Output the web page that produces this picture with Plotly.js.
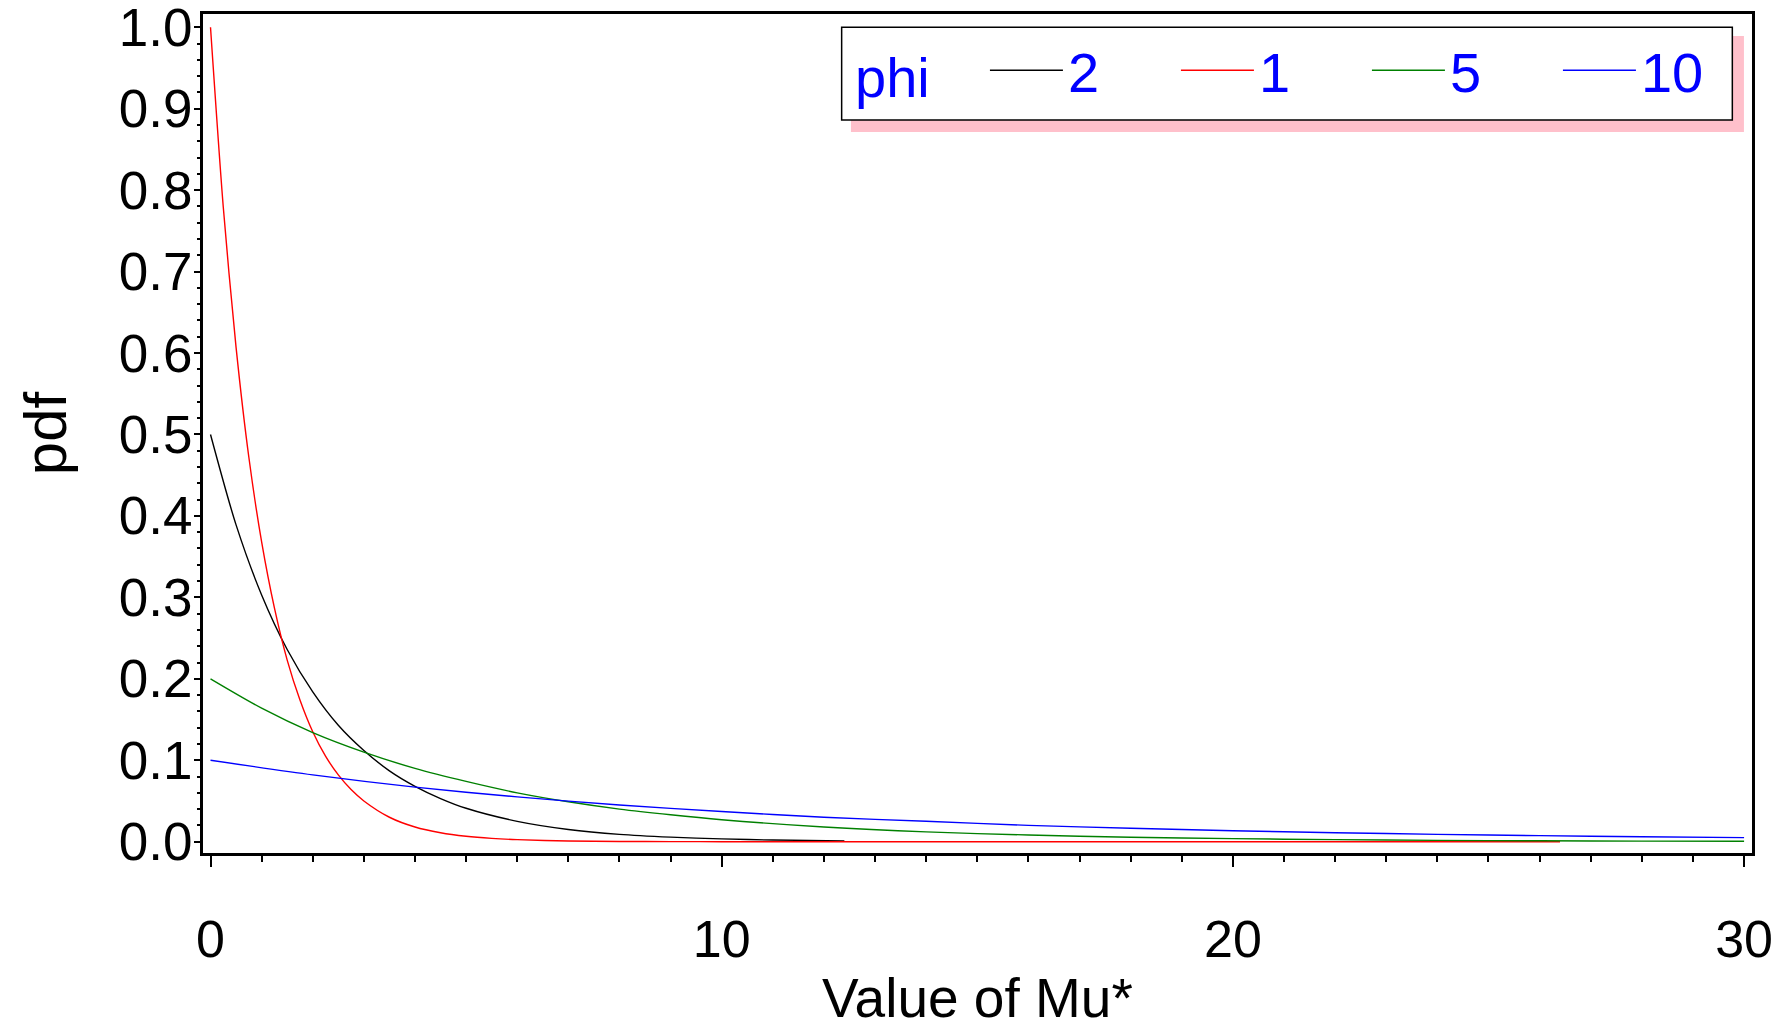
<!DOCTYPE html>
<html><head><meta charset="utf-8">
<script src="https://cdn.plot.ly/plotly-3.0.1.min.js"></script>
<style>html,body{margin:0;padding:0;background:#fff;} #chart{width:1783px;height:1029px;}</style>
</head><body><div id="chart"></div>
<script>
// phi labels (legend order)
const phiLabels = ['2', '1', '5', '10'];
const legendTitle = 'phi';
const xTitle = 'Value of Mu*';
const yTitle = 'pdf';

// phi = 2 (black)
const phi2_x = [0, 0.5, 1, 1.5, 2, 2.5, 3, 3.5, 4, 4.5, 5, 6, 7, 8, 9, 10, 11, 12.4];
const phi2_y = [0.500, 0.389, 0.303, 0.236, 0.184, 0.143, 0.112, 0.087, 0.068, 0.053, 0.041, 0.025, 0.015, 0.009, 0.0056, 0.0034, 0.002, 0.001];

// phi = 1 (red)
const phi1_x = [0, 0.25, 0.5, 0.75, 1, 1.25, 1.5, 1.75, 2, 2.25, 2.5, 2.75, 3, 3.5, 4, 4.5, 5, 5.5, 6, 7, 8, 9, 10, 12, 15, 20, 26.4];
const phi1_y = [1.000, 0.779, 0.607, 0.472, 0.368, 0.287, 0.223, 0.174, 0.135, 0.105, 0.082, 0.064, 0.050, 0.030, 0.018, 0.011, 0.0067, 0.0041, 0.0025, 0.0009, 0.0003, 0.0001, 0, 0, 0, 0, 0];

// phi = 5 (green)
const phi5_x = [0, 1, 2, 3, 4, 5, 6, 7, 8, 9, 10, 12, 14, 16, 18, 20, 22, 24, 26, 28, 30];
const phi5_y = [0.200, 0.164, 0.134, 0.110, 0.090, 0.074, 0.060, 0.049, 0.040, 0.033, 0.027, 0.018, 0.012, 0.0082, 0.0055, 0.0037, 0.0025, 0.0016, 0.0011, 0.0007, 0.0005];

// phi = 10 (blue)
const phi10_x = [0, 2, 4, 6, 8, 10, 12, 14, 16, 18, 20, 22, 24, 26, 28, 30];
const phi10_y = [0.100, 0.082, 0.067, 0.055, 0.045, 0.037, 0.030, 0.025, 0.020, 0.0165, 0.0135, 0.011, 0.009, 0.0074, 0.0061, 0.0050];

// axis ticks
const xTickVals = [0, 10, 20, 30];
const xTickText = ['0', '10', '20', '30'];
const yTickVals = [0, 0.1, 0.2, 0.3, 0.4, 0.5, 0.6, 0.7, 0.8, 0.9, 1.0];
const yTickText = ['0.0', '0.1', '0.2', '0.3', '0.4', '0.5', '0.6', '0.7', '0.8', '0.9', '1.0'];

const series = [
  {x: phi2_x, y: phi2_y, color: '#000000'},
  {x: phi1_x, y: phi1_y, color: '#FF0000'},
  {x: phi5_x, y: phi5_y, color: '#008000'},
  {x: phi10_x, y: phi10_y, color: '#0000FF'}
];

const traces = series.map((s, i) => ({
  type: 'scatter', mode: 'lines',
  x: s.x, y: s.y, name: phiLabels[i],
  line: {color: s.color, width: 1.4, shape: 'spline', smoothing: 0.8},
  hoverinfo: 'x+y+name'
}));

const FONT = 'Liberation Sans, Arial, sans-serif';

const layout = {
  width: 1783, height: 1029,
  margin: {l: 203, r: 31, t: 14, b: 176, pad: 0},
  paper_bgcolor: '#ffffff', plot_bgcolor: '#ffffff',
  font: {family: FONT, color: '#000000', size: 53},
  showlegend: true,
  xaxis: {
    range: [-0.147, 30.155], autorange: false,
    tickmode: 'array', tickvals: xTickVals, ticktext: xTickText,
    ticks: 'outside', ticklen: 11, tickwidth: 2, tickcolor: '#000',
    minor: {dtick: 1, ticks: 'outside', ticklen: 6, tickwidth: 2, tickcolor: '#000', showgrid: false},
    showline: true, linewidth: 2.7, linecolor: '#000', mirror: true,
    showgrid: false, zeroline: false,
    tickfont: {family: FONT, size: 52, color: '#000'},
    ticklabelstandoff: 28,
    ticklabeloverflow: 'allow',
    automargin: false
  },
  yaxis: {
    range: [-0.0139, 1.0163], autorange: false,
    tickmode: 'array', tickvals: yTickVals, ticktext: yTickText,
    ticks: 'outside', ticklen: 6, tickwidth: 2, tickcolor: '#000',
    minor: {dtick: 0.02, ticks: 'outside', ticklen: 3, tickwidth: 2, tickcolor: '#000', showgrid: false},
    showline: true, linewidth: 2.7, linecolor: '#000', mirror: true,
    showgrid: false, zeroline: false,
    tickfont: {family: FONT, size: 53, color: '#000'},
    ticklabelstandoff: -9,
    ticklabeloverflow: 'allow',
    title: {text: yTitle, font: {family: FONT, size: 60, color: '#000'}, standoff: 33},
    automargin: false
  },
  legend: {
    orientation: 'h',
    x: 0.5048, y: 0.9841, xanchor: 'left', yanchor: 'top',
    bgcolor: 'rgba(0,0,0,0)', borderwidth: 0,
    font: {family: FONT, size: 56, color: '#0000FF'},
    itemwidth: 73,
    entrywidth: 103,
    traceorder: 'normal'
  },
  annotations: [
    {xref: 'paper', yref: 'paper', x: 0.4194, y: 0.9245, xanchor: 'left', yanchor: 'middle',
     text: legendTitle, showarrow: false, font: {family: FONT, size: 56, color: '#0000FF'}},
    {xref: 'paper', yref: 'paper', x: 0.5, y: -0.173, xanchor: 'center', yanchor: 'middle',
     text: xTitle, showarrow: false, font: {family: FONT, size: 55, color: '#000000'}}
  ],
  shapes: [
    {type: 'rect', xref: 'paper', yref: 'paper', x0: 0.4183, x1: 0.9948, y0: 0.8594, y1: 0.9738,
     fillcolor: '#FFC0CB', line: {width: 0}, layer: 'above'},
    {type: 'rect', xref: 'paper', yref: 'paper', x0: 0.4123, x1: 0.9873, y0: 0.8737, y1: 0.9842,
     fillcolor: '#FFFFFF', line: {width: 1.5, color: '#000000'}, layer: 'above'}
  ]
};

Plotly.newPlot('chart', traces, layout, {displayModeBar: false});
</script>
</body></html>
